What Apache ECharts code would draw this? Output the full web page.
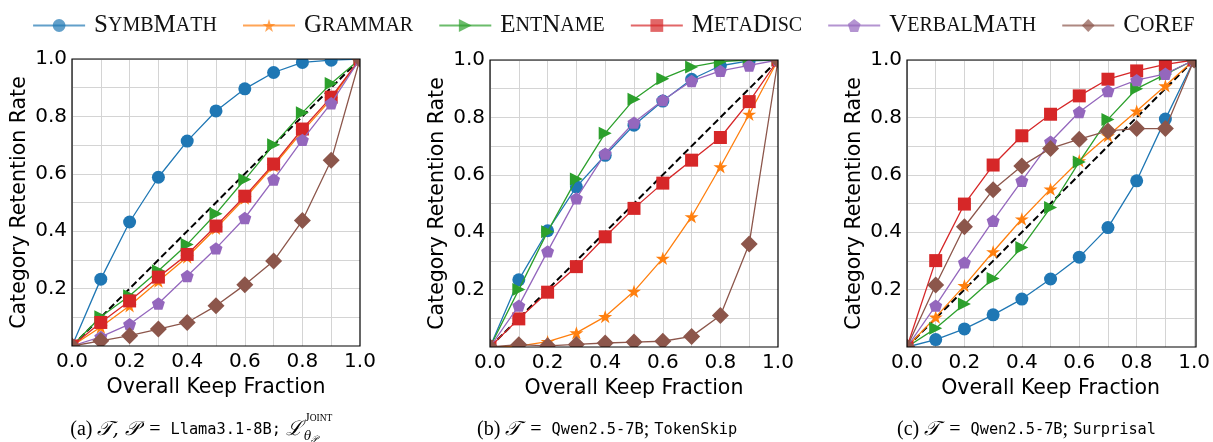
<!DOCTYPE html>
<html>
<head>
<meta charset="utf-8">
<script src="https://cdn.jsdelivr.net/npm/echarts@6/dist/echarts.min.js"></script>
<style>
  html, body { margin: 0; padding: 0; background: #fff; }
  #chart { width: 1213px; height: 442px; }
</style>
</head>
<body>
<div id="chart"></div>
<script>
// Overall keep fraction (x) shared by every panel
const keepFraction = [0.0, 0.1, 0.2, 0.3, 0.4, 0.5, 0.6, 0.7, 0.8, 0.9, 1.0];
const categoryNames = ['SymbMath', 'Grammar', 'EntName', 'MetaDisc', 'VerbalMath', 'CoRef'];

// (a) Llama3.1-8B, joint loss
const a_symbMath   = [0, 0.233, 0.432, 0.588, 0.714, 0.819, 0.896, 0.953, 0.988, 0.996, 1.0];
const a_grammar    = [0, 0.066, 0.140, 0.226, 0.310, 0.410, 0.515, 0.628, 0.748, 0.860, 1.0];
const a_entName    = [0, 0.102, 0.175, 0.262, 0.354, 0.461, 0.580, 0.701, 0.813, 0.915, 1.0];
const a_metaDisc   = [0, 0.082, 0.157, 0.240, 0.319, 0.418, 0.522, 0.634, 0.756, 0.867, 1.0];
const a_verbalMath = [0, 0.032, 0.076, 0.148, 0.244, 0.340, 0.446, 0.580, 0.718, 0.846, 1.0];
const a_coRef      = [0, 0.018, 0.036, 0.059, 0.082, 0.140, 0.213, 0.296, 0.437, 0.647, 1.0];

// (b) Qwen2.5-7B, TokenSkip
const b_symbMath   = [0, 0.234, 0.405, 0.558, 0.668, 0.773, 0.857, 0.933, 0.980, 0.997, 1.0];
const b_grammar    = [0, 0.003, 0.019, 0.049, 0.106, 0.194, 0.309, 0.454, 0.628, 0.811, 1.0];
const b_entName    = [0, 0.200, 0.402, 0.585, 0.745, 0.863, 0.935, 0.976, 0.994, 1.0, 1.0];
const b_metaDisc   = [0, 0.098, 0.191, 0.280, 0.384, 0.483, 0.571, 0.651, 0.730, 0.855, 1.0];
const b_verbalMath = [0, 0.144, 0.333, 0.518, 0.674, 0.782, 0.860, 0.927, 0.962, 0.981, 1.0];
const b_coRef      = [0, 0.008, 0.004, 0.009, 0.014, 0.017, 0.020, 0.037, 0.110, 0.359, 1.0];

// (c) Qwen2.5-7B, Surprisal
const c_symbMath   = [0, 0.026, 0.063, 0.112, 0.167, 0.237, 0.313, 0.416, 0.579, 0.794, 1.0];
const c_grammar    = [0, 0.104, 0.214, 0.332, 0.446, 0.550, 0.649, 0.736, 0.822, 0.910, 1.0];
const c_entName    = [0, 0.065, 0.150, 0.239, 0.347, 0.486, 0.645, 0.793, 0.900, 0.950, 1.0];
const c_metaDisc   = [0, 0.301, 0.498, 0.634, 0.736, 0.811, 0.875, 0.933, 0.962, 0.985, 1.0];
const c_verbalMath = [0, 0.144, 0.295, 0.440, 0.579, 0.715, 0.819, 0.892, 0.930, 0.952, 1.0];
const c_coRef      = [0, 0.216, 0.419, 0.548, 0.631, 0.692, 0.724, 0.753, 0.761, 0.761, 1.0];

// Reference diagonal (retention = keep fraction)
const diagonal = [0.0, 1.0];

const panels = [
  [a_symbMath, a_grammar, a_entName, a_metaDisc, a_verbalMath, a_coRef],
  [b_symbMath, b_grammar, b_entName, b_metaDisc, b_verbalMath, b_coRef],
  [c_symbMath, c_grammar, c_entName, c_metaDisc, c_verbalMath, c_coRef]
];

const colors = ['#1f77b4', '#ff7f0e', '#2ca02c', '#d62728', '#9467bd', '#8c564b'];
const STAR = 'path://M100 0 L122.45 69.1 L195.1 69.1 L136.3 111.8 L158.8 180.9 L100 138.2 L41.2 180.9 L63.7 111.8 L4.9 69.1 L77.55 69.1 Z';
const PENTAGON = 'path://M100 0 L195.1 69.1 L158.8 180.9 L41.2 180.9 L4.9 69.1 Z';
const TRI_RIGHT = 'path://M0 0 L100 50 L0 100 Z';
const symbols = ['circle', STAR, TRI_RIGHT, 'rect', PENTAGON, 'diamond'];
const symbolSizes = [13, 14, 13, 13, 13, 17];

const grids = [
  { left: 72, top: 59, width: 288, height: 287 },
  { left: 490, top: 60, width: 288, height: 287 },
  { left: 907, top: 60, width: 289, height: 287 }
];

const tickFont = { fontFamily: 'DejaVu Sans', fontSize: 20, color: '#000' };
const titleFont = { fontFamily: 'DejaVu Sans', fontSize: 20.5, color: '#000' };
const gridLine = { show: true, lineStyle: { color: '#d4d4d4', width: 1 } };

function evenTick(v) { return Math.round(v * 10) % 2 === 0; }
const xFmt = v => evenTick(v) ? v.toFixed(1) : '';
const yFmt = v => (evenTick(v) && v > 0.05) ? v.toFixed(1) : '';

// Lower axes carry the grid lines (beneath the data); upper axes carry labels and titles
const xAxes = [], yAxes = [];
grids.forEach((g, i) => {
  const common = { type: 'value', gridIndex: i, min: 0, max: 1, interval: 0.1,
                   axisLine: { show: false }, axisTick: { show: false } };
  xAxes.push(Object.assign({}, common, { position: 'bottom', z: 0,
    axisLabel: { show: false }, splitLine: gridLine }));
  yAxes.push(Object.assign({}, common, { position: 'left', z: 0,
    axisLabel: { show: false }, splitLine: gridLine }));
});
grids.forEach((g, i) => {
  const common = { type: 'value', gridIndex: i, min: 0, max: 1, interval: 0.1,
                   axisLine: { show: false }, axisTick: { show: false }, splitLine: { show: false } };
  xAxes.push(Object.assign({}, common, { position: 'bottom', z: 40,
    name: 'Overall Keep Fraction', nameLocation: 'middle', nameGap: 24, nameTextStyle: titleFont,
    axisLabel: Object.assign({ margin: 6, formatter: xFmt }, tickFont) }));
  yAxes.push(Object.assign({}, common, { position: 'left', z: 40,
    name: 'Category Retention Rate', nameLocation: 'middle', nameGap: 42, nameTextStyle: titleFont,
    axisLabel: Object.assign({ margin: 5, formatter: yFmt }, tickFont) }));
});

const series = [];
panels.forEach((panel, p) => {
  series.push({
    type: 'line', xAxisIndex: p, yAxisIndex: p, silent: true,
    data: diagonal.map(v => [v, v]), symbol: 'none',
    lineStyle: { color: '#000', width: 2, type: [7, 3.5] }, z: 2
  });
  panel.forEach((vals, k) => {
    series.push({
      name: categoryNames[k], type: 'line', xAxisIndex: p, yAxisIndex: p,
      data: keepFraction.map((x, j) => [x, vals[j]]),
      symbol: symbols[k], symbolSize: symbolSizes[k], symbolKeepAspect: true,
      showAllSymbol: true, clip: true,
      itemStyle: { color: colors[k] },
      lineStyle: { color: colors[k], width: 1.3 },
      emphasis: { disabled: true }, z: 3 + k
    });
  });
});

// Markers are trimmed at the plot frame: white margins around each plot, then the frame itself
const frameGraphics = [];
grids.forEach(g => {
  const L = g.left, T = g.top, W = g.width, H = g.height, R = L + W, B = T + H, m = 12;
  const white = { fill: '#fff' };
  [[L - m, T - m, W + 2 * m, m], [L - m, B, W + 2 * m, m], [L - m, T, m, H], [R, T, m, H]]
    .forEach(r => frameGraphics.push({ type: 'rect', silent: true, z: 30,
      shape: { x: r[0], y: r[1], width: r[2], height: r[3] }, style: white }));
  frameGraphics.push({ type: 'rect', silent: true, z: 31,
    shape: { x: L, y: T, width: W, height: H },
    style: { fill: null, stroke: '#000', lineWidth: 1.2 } });
});

// Small-caps legend labels built from rich text runs
function smallCaps(name) {
  let out = '';
  for (const ch of name) {
    out += (ch === ch.toUpperCase()) ? '{b|' + ch + '}' : '{s|' + ch.toUpperCase() + '}';
  }
  return out;
}

const captionRich = {
  p: { fontFamily: 'Liberation Serif', fontSize: 20, color: '#000' },
  m: { fontFamily: 'DejaVu Serif', fontSize: 20, fontStyle: 'italic', color: '#000' },
  t: { fontFamily: 'DejaVu Sans Mono', fontSize: 15.3, color: '#000' }
};
const EQ = '{p|\u2002=\u2002}';

const captions = [
  { type: 'text', x: 303, y: 430, silent: true, z: 50,
    style: { text: '{p|(a) }{m|𝒯, 𝒫}' + EQ + '{t|Llama3.1-8B;}{p| }{m|ℒ}', rich: captionRich,
             align: 'right', textAlign: 'right', verticalAlign: 'middle', textVerticalAlign: 'middle' } },
  { type: 'text', x: 305, y: 418, silent: true, z: 50,
    style: { text: '{b|J}{s|OINT}', verticalAlign: 'middle', textVerticalAlign: 'middle', rich: {
      b: { fontFamily: 'Liberation Serif', fontSize: 12, color: '#000' },
      s: { fontFamily: 'Liberation Serif', fontSize: 9.5, color: '#000' } } } },
  { type: 'text', x: 304, y: 437, silent: true, z: 50,
    style: { text: '{a|θ}{b|𝒫}', verticalAlign: 'middle', textVerticalAlign: 'middle', rich: {
      a: { fontFamily: 'DejaVu Serif', fontStyle: 'italic', fontSize: 12, color: '#000' },
      b: { fontFamily: 'DejaVu Serif', fontStyle: 'italic', fontSize: 9, color: '#000', padding: [6, 0, 0, 0] } } } },
  { type: 'text', x: 477, y: 430, silent: true, z: 50,
    style: { text: '{p|(b) }{m|𝒯}' + EQ + '{t|Qwen2.5-7B}{p|; }{t|TokenSkip}', rich: captionRich,
             verticalAlign: 'middle', textVerticalAlign: 'middle' } },
  { type: 'text', x: 897, y: 430, silent: true, z: 50,
    style: { text: '{p|(c) }{m|𝒯}' + EQ + '{t|Qwen2.5-7B}{p|; }{t|Surprisal}', rich: captionRich,
             verticalAlign: 'middle', textVerticalAlign: 'middle' } }
];

const option = {
  animation: false,
  backgroundColor: '#fff',
  color: colors,
  grid: grids.map(g => Object.assign({ show: false }, g)),
  xAxis: xAxes,
  yAxis: yAxes,
  legend: {
    data: categoryNames,
    left: 27, top: 8,
    itemWidth: 52, itemHeight: 16, itemGap: 25,
    itemStyle: { opacity: 0.7 }, lineStyle: { opacity: 0.7, width: 2.2 },
    formatter: smallCaps,
    textStyle: {
      color: '#000',
      padding: [0, 0, 0, 4],
      rich: {
        b: { fontFamily: 'Liberation Serif', fontSize: 25, color: '#111' },
        s: { fontFamily: 'Liberation Serif', fontSize: 20, color: '#111' }
      }
    }
  },
  graphic: frameGraphics.concat(captions),
  series: series
};

const chart = echarts.init(document.getElementById('chart'), null, { renderer: 'canvas' });
chart.setOption(option);
</script>
</body>
</html>
